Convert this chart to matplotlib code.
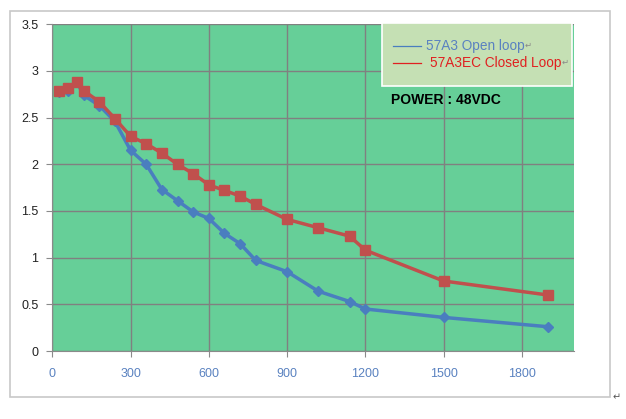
import matplotlib
matplotlib.use("Agg")
import matplotlib.pyplot as plt
from matplotlib.patches import Rectangle
from matplotlib.lines import Line2D

# speed (rpm) vs torque (N.m)
open_x = [25, 60, 95, 120, 180, 240, 300, 360, 420, 480, 540, 600, 660, 720, 780,
          900, 1020, 1140, 1200, 1500, 1900]
open_y = [2.78, 2.79, 2.88, 2.74, 2.63, 2.46, 2.15, 2.00, 1.73, 1.61, 1.49, 1.42,
          1.26, 1.15, 0.97, 0.85, 0.64, 0.53, 0.45, 0.36, 0.26]

closed_x = [25, 60, 95, 120, 180, 240, 300, 360, 420, 480, 540, 600, 660, 720, 780,
            900, 1020, 1140, 1200, 1500, 1900]
closed_y = [2.79, 2.82, 2.88, 2.79, 2.67, 2.49, 2.30, 2.22, 2.12, 2.00, 1.90, 1.78,
            1.72, 1.66, 1.57, 1.41, 1.32, 1.23, 1.08, 0.75, 0.60]

x_ticks = [0, 300, 600, 900, 1200, 1500, 1800]
y_ticks = [0, 0.5, 1, 1.5, 2, 2.5, 3, 3.5]
y_labels = ["0", "0.5", "1", "1.5", "2", "2.5", "3", "3.5"]

BLUE = "#4a7ebf"
RED = "#c0504d"
GREEN = "#66cf98"
GRID = "#808080"

W, H = 626, 419
fig = plt.figure(figsize=(W / 100, H / 100), dpi=100)
plt.rcParams["font.family"] = ["Liberation Sans", "DejaVu Sans"]

# outer chart frame
fig.patches.append(Rectangle((10 / W, 1 - 397 / H), 600 / W, 386 / H,
                             transform=fig.transFigure, fill=False,
                             edgecolor="#c8c8c8", lw=1.2))

ax = fig.add_axes([52.3 / W, 1 - 351 / H, (574 - 52.3) / W, (351 - 24.3) / H])
ax.set_facecolor(GREEN)
ax.set_xlim(0, 2000)
ax.set_ylim(0, 3.5)
ax.set_xticks(x_ticks)
ax.set_yticks(y_ticks)
ax.set_yticklabels(y_labels)
ax.grid(True, color=GRID, lw=1)
ax.set_axisbelow(True)
for s in ("top", "right"):
    ax.spines[s].set_visible(False)
for s in ("left", "bottom"):
    ax.spines[s].set_color("#8a8a8a")
ax.tick_params(axis="both", direction="out", length=4, color="#8a8a8a",
               labelsize=9)
ax.tick_params(axis="x", labelcolor="#5a82c0", pad=8)
ax.tick_params(axis="y", labelcolor="#222222", pad=6)

ax.plot(open_x, open_y, color=BLUE, lw=2.5, marker="D", ms=5.5,
        mec=BLUE, mfc=BLUE, zorder=3)
ax.plot(closed_x, closed_y, color=RED, lw=2.5, marker="s", ms=7.5,
        mec=RED, mfc=RED, zorder=4)

# legend drawn as a text box (as in the source document)
fig.patches.append(Rectangle((382 / W, 1 - 86 / H), 190 / W, 63 / H,
                             transform=fig.transFigure, facecolor="#c5e0b4",
                             edgecolor="white", lw=1.2, zorder=5))
fig.add_artist(Line2D([393 / W, 421 / W], [1 - 46 / H] * 2, color=BLUE, lw=0.9,
                      zorder=6))
fig.add_artist(Line2D([393 / W, 421 / W], [1 - 63 / H] * 2, color="#e02020", lw=0.9,
                      zorder=6))

renderer = fig.canvas.get_renderer()
for label, color, x0, y0 in [("57A3 Open loop", "#5a82c0", 426, 46),
                             ("57A3EC Closed Loop", "#e02020", 430, 63)]:
    t = fig.text(x0 / W, 1 - y0 / H, label, color=color, fontsize=9.8,
                 va="center", ha="left", zorder=6)
    bb = t.get_window_extent(renderer)
    fig.text(bb.x1 / W, 1 - y0 / H, "↵", color="#888888", fontsize=6,
             va="center", ha="left", zorder=6)

fig.text(391 / W, 1 - 100 / H, "POWER : 48VDC", color="black", fontsize=10,
         fontweight="bold", va="center", ha="left")

fig.text(613 / W, 1 - 397 / H, "↵", color="#555555", fontsize=7,
         va="center", ha="left")

fig.savefig("out.png", dpi=100)
